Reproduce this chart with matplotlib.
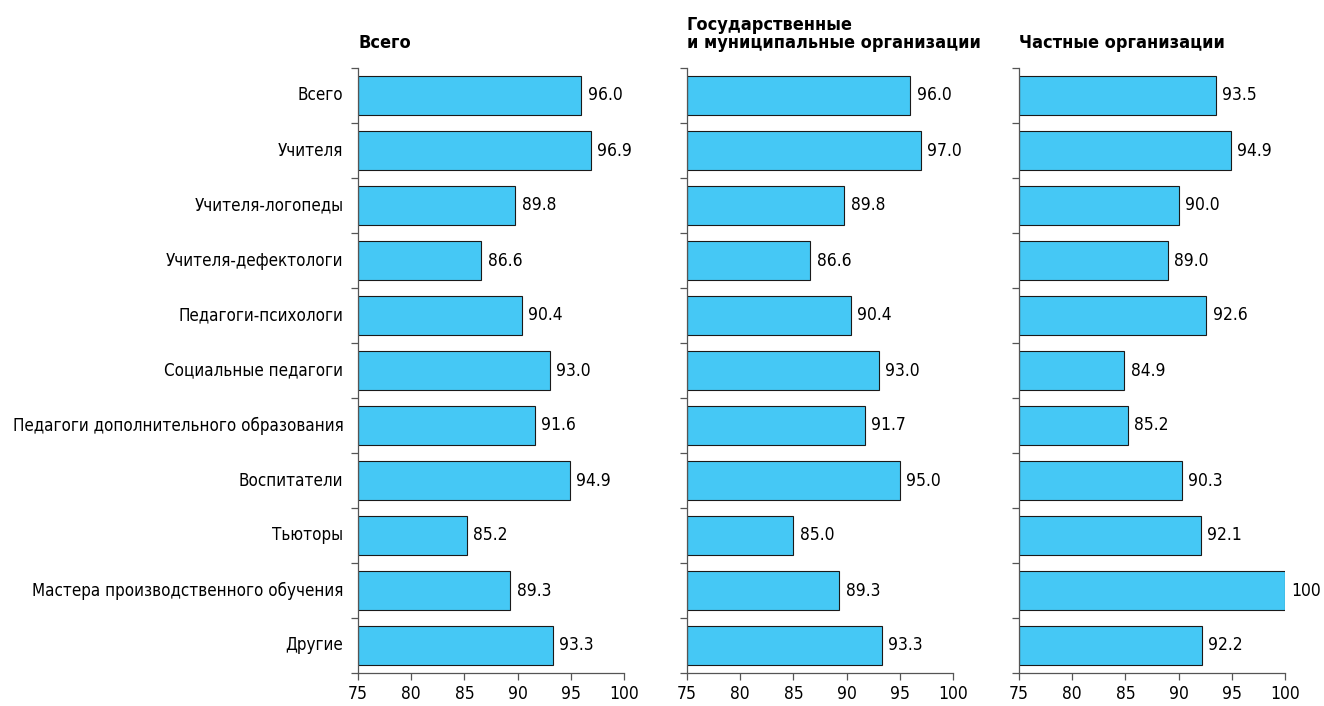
import matplotlib
matplotlib.use("Agg")
import matplotlib.pyplot as plt
import numpy as np

categories = ["Всего", "Учителя", "Учителя-логопеды", "Учителя-дефектологи",
              "Педагоги-психологи", "Социальные педагоги",
              "Педагоги дополнительного образования", "Воспитатели", "Тьюторы",
              "Мастера производственного обучения", "Другие"]
titles = ["Всего", "Государственные\nи муниципальные организации", "Частные организации"]
total = [96.0, 96.9, 89.8, 86.6, 90.4, 93.0, 91.6, 94.9, 85.2, 89.3, 93.3]
gov = [96.0, 97.0, 89.8, 86.6, 90.4, 93.0, 91.7, 95.0, 85.0, 89.3, 93.3]
private = [93.5, 94.9, 90.0, 89.0, 92.6, 84.9, 85.2, 90.3, 92.1, 100, 92.2]
xticks = [75, 80, 85, 90, 95, 100]

plt.rcParams['font.family'] = ['DejaVu Sans']
plt.rcParams['font.stretch'] = 'condensed'

fig = plt.figure(figsize=(13.24, 7.06), dpi=100)
lefts = [358 / 1324, 687 / 1324, 1019 / 1324]
w = 266 / 1324
bottom = 1 - 673 / 706
h = 605 / 706
series = [total, gov, private]
color = "#45C8F5"

for i, (left, vals, title) in enumerate(zip(lefts, series, titles)):
    ax = fig.add_axes([left, bottom, w, h])
    y = np.arange(len(categories))
    ax.barh(y, [v - 75 for v in vals], left=75, height=0.7, color=color,
            edgecolor="#1a1a1a", linewidth=0.8)
    ax.set_xlim(75, 100)
    ax.set_ylim(len(categories) - 0.5, -0.5)
    ax.set_xticks(xticks)
    ax.set_xticklabels([str(t) for t in xticks], fontsize=12.5)
    ax.set_yticks(np.arange(len(categories) + 1) - 0.5)
    ax.set_yticklabels([])
    ax.tick_params(axis='both', length=5, width=0.9, color="#555555")
    if i == 0:
        for yy, c in zip(y, categories):
            ax.text(-0.055, yy, c, transform=ax.get_yaxis_transform(),
                    ha='right', va='center', fontsize=12.2)
    for yy, v in zip(y, vals):
        lab = "100" if v == 100 else f"{v:.1f}"
        ax.text(v + 0.6, yy, lab, ha='left', va='center', fontsize=12.5)
    for s in ['top', 'right']:
        ax.spines[s].set_visible(False)
    for s in ['left', 'bottom']:
        ax.spines[s].set_color("#555555")
        ax.spines[s].set_linewidth(0.9)
    ax.text(0.0, 1.027, title, transform=ax.transAxes, ha='left', va='bottom',
            fontsize=13, fontweight='bold', linespacing=1.0)

fig.savefig("out.png", dpi=100)
